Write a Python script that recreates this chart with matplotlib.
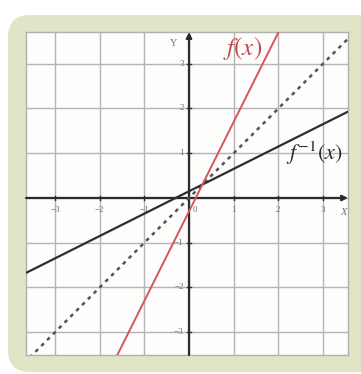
import matplotlib

matplotlib.use("Agg")
import matplotlib.pyplot as plt
from matplotlib.patches import FancyBboxPatch

# values
tick_vals = [-3, -2, -1, 1, 2, 3]
f_x = [-1.6, 2.05]
f_y = [-3.5, 3.8]
finv_x = [-3.7, 3.6]
finv_y = [-1.7, 1.95]
diag_x = [-3.7, 3.6]
diag_y = [-3.7, 3.6]

x_lim = (-3.65, 3.56)
y_lim = (-3.51, 3.71)

plt.rcParams["mathtext.fontset"] = "stix"

fig = plt.figure(figsize=(3.61, 3.74), dpi=100)
fig.patch.set_facecolor("white")

# green rounded panel behind the graph
panel = FancyBboxPatch(
    (8 / 361, 2 / 374),
    (361 - 8 + 20) / 361,
    (372 - 15) / 374,
    boxstyle="round,pad=0,rounding_size=0.06",
    transform=fig.transFigure,
    facecolor="#dfe5c6",
    edgecolor="none",
    zorder=-1,
)
fig.patches.append(panel)

ax = fig.add_axes([26 / 361, 19 / 374, 322 / 361, 323 / 374])
ax.set_zorder(1)
ax.set_facecolor("#fdfdfb")
ax.set_xlim(*x_lim)
ax.set_ylim(*y_lim)

ax.set_xticks(tick_vals + [0])
ax.set_yticks(tick_vals + [0])
ax.tick_params(length=0, labelbottom=False, labelleft=False)
ax.grid(True, color="#b4b4b4", linewidth=1.0)
for sp in ax.spines.values():
    sp.set_color("#b0b0b0")
    sp.set_linewidth(1.0)

# axes through the origin with arrow heads
ax.annotate("", xy=(x_lim[1], 0), xytext=(x_lim[0], 0),
            arrowprops=dict(arrowstyle="-|>", color="#2b2b2b", lw=1.6,
                            mutation_scale=8, shrinkA=0, shrinkB=0), zorder=3)
ax.annotate("", xy=(0, y_lim[1]), xytext=(0, y_lim[0]),
            arrowprops=dict(arrowstyle="-|>", color="#2b2b2b", lw=1.6,
                            mutation_scale=8, shrinkA=0, shrinkB=0), zorder=3)

for v in tick_vals:
    ax.plot([v, v], [-0.05, 0.05], color="#2b2b2b", lw=1.0, zorder=3)
    ax.plot([-0.05, 0.05], [v, v], color="#2b2b2b", lw=1.0, zorder=3)
    lbl = str(v).replace("-", "\u2212")
    ax.text(v, -0.18, lbl, ha="center", va="top", fontsize=6.5,
            family="Liberation Serif", color="#707070")
    ax.text(-0.12, v, lbl, ha="right", va="center", fontsize=6.5,
            family="Liberation Serif", color="#707070")
ax.text(0.08, -0.18, "0", ha="left", va="top", fontsize=6.5,
        family="Liberation Serif", color="#707070")

ax.text(-0.35, 3.45, "Y", ha="center", va="center", fontsize=7.5,
        family="Liberation Serif", color="#707070")
ax.text(3.45, -0.32, "X", ha="center", va="center", fontsize=7.5,
        family="Liberation Serif", style="italic", color="#707070")

ax.plot(diag_x, diag_y, color="#555555", lw=1.8, linestyle=(0, (1.5, 1.8)), zorder=4)
ax.plot(finv_x, finv_y, color="#2e2e2e", lw=1.6, zorder=4)
ax.plot(f_x, f_y, color="#d9545c", lw=1.4, zorder=5)

ax.text(1.2, 3.33, r"$f(x)$", ha="center", va="center", fontsize=18,
        color="#c0474f", zorder=6)
ax.text(2.8, 1.0, r"$f^{-1}(x)$", ha="center", va="center", fontsize=16,
        color="#2a2a2a", zorder=6)

fig.savefig("out.png", dpi=100)
plt.close(fig)
